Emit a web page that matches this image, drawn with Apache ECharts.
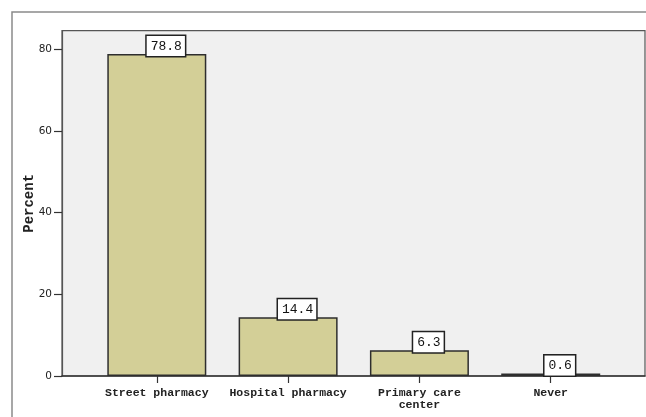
<!DOCTYPE html>
<html>
<head>
<meta charset="utf-8">
<script src="https://cdn.jsdelivr.net/npm/echarts@6/dist/echarts.min.js"></script>
<style>
html,body{margin:0;padding:0;background:#fff;}
#c{width:646px;height:417px;}
</style>
</head>
<body>
<div id="c"></div>
<script>
var categories = ['Street pharmacy', 'Hospital pharmacy', 'Primary care\ncenter', 'Never'];
var percentValues = [78.8, 14.4, 6.3, 0.6];
var yTicks = [0, 20, 40, 60, 80];

var chart = echarts.init(document.getElementById('c'), null, {renderer: 'canvas'});
var positions = categories.map(function (_, i) { return i; });
var barData = percentValues.map(function (v, i) { return [i, v]; });

var mono = '"Liberation Mono", "DejaVu Sans Mono", monospace';

chart.setOption({
  animation: false,
  backgroundColor: '#ffffff',
  graphic: [{
    type: 'rect',
    shape: {x: 12, y: 12, width: 700, height: 500},
    style: {fill: 'none', stroke: '#8a8a8a', lineWidth: 1.5},
    z: -10
  }],
  grid: {
    left: 62, right: 1, top: 30.7, bottom: 41,
    show: true,
    backgroundColor: '#f0f0f0',
    borderColor: '#555',
    borderWidth: 1.2
  },
  xAxis: {
    type: 'value',
    min: -0.722,
    max: 3.718,
    splitLine: {show: false},
    axisLine: {show: true, onZero: false, lineStyle: {color: '#333', width: 1.5}},
    axisTick: {show: true, customValues: positions, length: 7, lineStyle: {color: '#333', width: 1.2}},
    axisLabel: {
      customValues: positions,
      formatter: function (v) { return categories[Math.round(v)]; },
      fontFamily: mono, fontWeight: 'bold', fontSize: 11.5, color: '#222',
      margin: 11, lineHeight: 12
    }
  },
  yAxis: {
    type: 'value',
    min: 0,
    max: 84.5,
    splitLine: {show: false},
    axisLine: {show: true, onZero: false, lineStyle: {color: '#555', width: 1.2}},
    axisTick: {show: true, customValues: yTicks, length: 8, lineStyle: {color: '#333', width: 1.2}},
    axisLabel: {
      customValues: yTicks,
      fontFamily: '"DejaVu Sans", Verdana, sans-serif', fontSize: 10.5, color: '#222', margin: 10
    },
    name: 'Percent',
    nameLocation: 'middle',
    nameGap: 26,
    nameMoveOverlap: false,
    nameTextStyle: {fontFamily: mono, fontWeight: 'bold', fontSize: 14, color: '#222'}
  },
  series: [{
    type: 'bar',
    data: barData,
    barWidth: 99,
    itemStyle: {color: '#d3cf97', borderColor: '#2e2e2e', borderWidth: 1.5},
    label: {
      show: true,
      position: 'top',
      distance: 0,
      offset: [9, 2],
      formatter: function (p) { return p.value[1].toFixed(1); },
      fontFamily: mono, fontSize: 13, color: '#111',
      backgroundColor: '#ffffff',
      borderColor: '#222', borderWidth: 1.5,
      padding: [4, 3, 3, 4]
    }
  }]
});
</script>
</body>
</html>
